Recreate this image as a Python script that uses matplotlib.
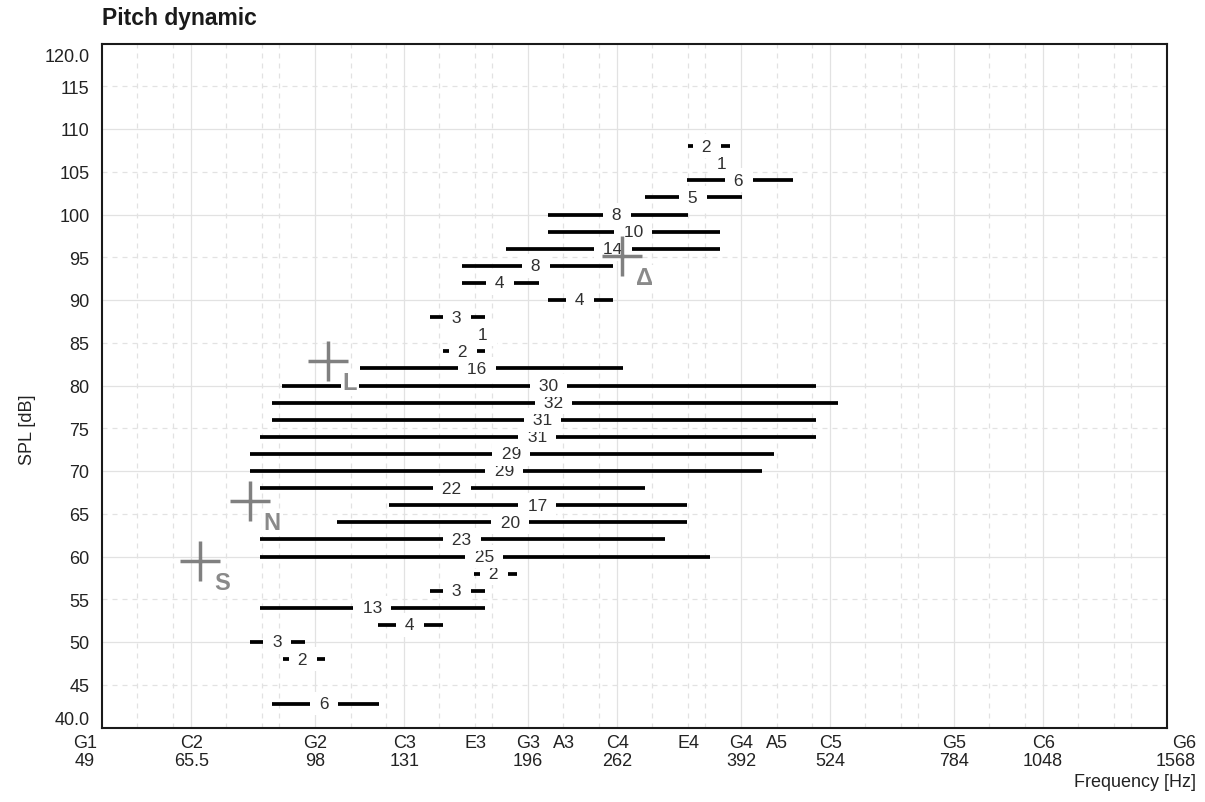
import matplotlib
matplotlib.use("Agg")
import matplotlib.pyplot as plt
from matplotlib.transforms import ScaledTranslation

plt.rcParams['font.family'] = ['Liberation Sans', 'DejaVu Sans']

# ---------------- data ----------------
levels_db = [108, 106, 104, 102, 100, 98, 96, 94, 92, 90, 88, 86, 84, 82, 80, 78,
             76, 74, 72, 70, 68, 66, 64, 62, 60, 58, 56, 54, 52, 50, 48, 42.8]
counts = [2, 1, 6, 5, 8, 10, 14, 8, 4, 4, 3, 1, 2, 16, 30, 32,
          31, 31, 29, 29, 22, 17, 20, 23, 25, 2, 3, 13, 4, 3, 2, 6]
low_hz = [329.9, 357.8, 328.8, 286.8, 209.2, 209.2, 182.5, 158.1, 158.1, 209.2, 142.5, 164.4,
          148.6, 113.5, 88.0, 85.2, 85.2, 81.9, 79.3, 79.3, 81.9, 124.7, 105.3, 81.9,
          81.9, 164.4, 142.5, 81.9, 120.3, 79.3, 88.3, 85.2]
high_hz = [378.2, 379.5, 464.3, 393.3, 329.9, 366.1, 366.1, 258.5, 203.1, 258.5, 170.4, 174.4,
           170.4, 267.0, 500.4, 537.5, 500.4, 500.4, 436.5, 419.7, 286.8, 328.8, 328.8, 306.1,
           354.4, 189.1, 170.4, 170.4, 148.6, 94.9, 101.2, 120.7]
label_hz = [351, 368.5, 389, 335, 262, 276, 258.5, 201, 179, 232, 155.5, 169.3,
            158.5, 166.0, 209.5, 213, 205.5, 202, 185.5, 181.5, 153, 202, 185, 158,
            170, 175.5, 155.5, 118, 133.5, 86.7, 94.2, 101]

marker_names = ['S', 'N', 'L', 'Δ']
marker_hz = [67.4, 79.3, 102.2, 266.1]
marker_db = [59.5, 66.5, 82.9, 95.1]

tick_hz = [49, 65.5, 98, 131, 165, 196, 220, 262, 330, 392, 440, 524, 784, 1048, 1568]
tick_labels = ['G1\n49', 'C2\n65.5', 'G2\n98', 'C3\n131', 'E3', 'G3\n196', 'A3', 'C4\n262',
               'E4', 'G4\n392', 'A5', 'C5\n524', 'G5\n784', 'C6\n1048', 'G6\n1568']
ytick_vals = [40, 45, 50, 55, 60, 65, 70, 75, 80, 85, 90, 95, 100, 105, 110, 115, 120]
ytick_labels = ['40.0', '45', '50', '55', '60', '65', '70', '75', '80', '85', '90', '95',
                '100', '105', '110', '115', '120.0']

# ---------------- figure ----------------
W, H = 1205, 803
fig = plt.figure(figsize=(W / 100, H / 100), dpi=100)
fig.patch.set_facecolor('white')
L, R, T, B = 102, 1167, 44.5, 728.5
ax = fig.add_axes([L / W, 1 - B / H, (R - L) / W, (B - T) / H])
ax.set_xscale('log', base=2)
ax.set_xlim(49, 1568)
ax.set_ylim(40, 120)

# grid: natural notes (solid at C and G), dB every 5 (solid every 10)
grid_c = '#e2e2e2'
nat_offsets = [0, 2, 4, 5, 7, 9, 10]
for octv in range(5):
    for off in nat_offsets:
        k = 12 * octv + off
        if k == 0:
            continue
        f = 49 * 2 ** (k / 12)
        ls = '-' if off in (0, 5) else (0, (4, 4))
        ax.axvline(f, color=grid_c, lw=0.9, ls=ls, zorder=0)
for v in range(45, 120, 5):
    ls = '-' if v % 10 == 0 else (0, (4, 4))
    ax.axhline(v, color=grid_c, lw=0.9, ls=ls, zorder=0)

# segments, drawn from low to high level
order = sorted(range(len(levels_db)), key=lambda i: levels_db[i])
for n, i in enumerate(order):
    ax.plot([low_hz[i], high_hz[i]], [levels_db[i], levels_db[i]], color='black',
            lw=2.7, solid_capstyle='butt', zorder=3 + 2 * n)
    ax.text(label_hz[i], levels_db[i], f' {counts[i]} ', ha='center', va='center',
            fontsize=12.5, color='#303030', zorder=4 + 2 * n,
            bbox=dict(boxstyle='square,pad=0.25', fc='white', ec='none'))

# register markers
ax.plot(marker_hz, marker_db, ls='none', marker='+', ms=29, mew=2.5,
        color='#808080', zorder=300)
for name, hz, db in zip(marker_names, marker_hz, marker_db):
    ax.annotate(name, (hz, db), xytext=(16, -15.5), textcoords='offset points',
                ha='center', va='center', fontsize=17, fontweight='bold',
                color='#8a8a8a', zorder=301,
                bbox=dict(boxstyle='square,pad=0.08', fc='white', ec='none'))

# ticks
ax.set_xticks(tick_hz)
ax.set_xticklabels(tick_labels)
ax.xaxis.set_minor_locator(matplotlib.ticker.NullLocator())
ax.set_yticks(ytick_vals)
ax.set_yticklabels(ytick_labels)
ax.tick_params(axis='both', length=0, labelsize=13, colors='#222222')
ax.tick_params(axis='x', pad=5)
ax.tick_params(axis='y', pad=9)
for lbl in ax.get_xticklabels():
    lbl.set_linespacing(1.05)

xl = ax.get_xticklabels()
xl[0].set_transform(xl[0].get_transform() + ScaledTranslation(-17 / 100, 0, fig.dpi_scale_trans))
xl[-1].set_horizontalalignment('right')
xl[-1].set_transform(xl[-1].get_transform() + ScaledTranslation(29 / 100, 0, fig.dpi_scale_trans))
yl = ax.get_yticklabels()
yl[0].set_transform(yl[0].get_transform() + ScaledTranslation(0, 10 / 100, fig.dpi_scale_trans))
yl[-1].set_transform(yl[-1].get_transform() + ScaledTranslation(0, -11 / 100, fig.dpi_scale_trans))

for sp in ax.spines.values():
    sp.set_linewidth(1.5)
    sp.set_color('#1a1a1a')

# titles / axis labels
fig.text(L / W, 1 - 18 / H, 'Pitch dynamic', ha='left', va='center',
         fontsize=16.5, fontweight='bold', color='#1a1a1a')
fig.text(28 / W, 1 - 430 / H, 'SPL [dB]', rotation=90, ha='center', va='center',
         fontsize=13, color='#222222')
fig.text(1196 / W, 1 - 783 / H, 'Frequency [Hz]', ha='right', va='center',
         fontsize=13, color='#222222')

fig.savefig('out.png', dpi=100, facecolor='white')
